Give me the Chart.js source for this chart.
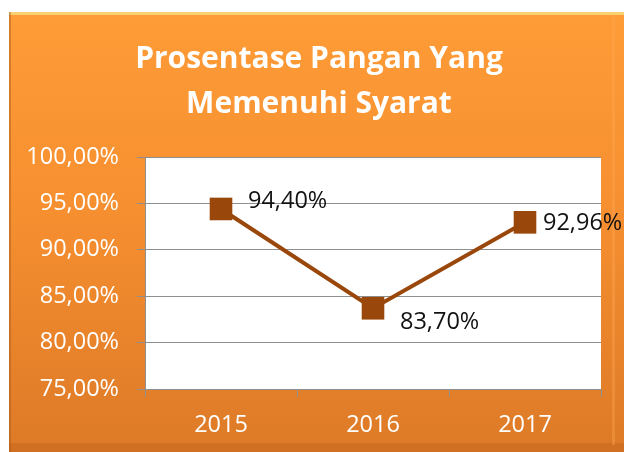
<!DOCTYPE html>
<html>
<head>
<meta charset="utf-8">
<script src="https://cdn.jsdelivr.net/npm/chart.js@4"></script>
<style>
  html, body { margin: 0; padding: 0; background: #fff; }
  #wrap { width: 624px; height: 452px; }
</style>
</head>
<body>
<div id="wrap"><canvas id="chart" width="624" height="452"></canvas></div>
<script>
const years = ['2015', '2016', '2017'];
const persen = [0.944, 0.837, 0.9296];
const titleLines = ['Prosentase Pangan Yang', 'Memenuhi Syarat'];
const yMin = 0.75, yMax = 1.0, yStep = 0.05;

const lineColor = '#9a470b';
const gridColor = '#8f8f8f';

function fmtPct(v) {
  return (v * 100).toFixed(2).replace('.', ',') + '%';
}

// card background, title, white plot area
const cardPlugin = {
  id: 'card',
  beforeDraw(chart) {
    const ctx = chart.ctx;
    const a = chart.chartArea;
    ctx.save();
    ctx.fillStyle = '#fff';
    ctx.fillRect(0, 0, chart.width, chart.height);

    const g = ctx.createLinearGradient(0, 12, 0, 452);
    g.addColorStop(0, '#fe9c37');
    g.addColorStop(0.45, '#f68f30');
    g.addColorStop(1, '#dd7a27');
    ctx.fillStyle = g;
    ctx.fillRect(9, 12, 640, 450);

    // bevel edges
    ctx.fillStyle = 'rgba(250,215,120,0.9)';
    ctx.fillRect(9, 12, 640, 3);
    ctx.fillStyle = 'rgba(160,90,30,0.45)';
    ctx.fillRect(9, 12, 2, 450);
    ctx.fillStyle = 'rgba(170,80,20,0.25)';
    ctx.fillRect(9, 443, 640, 9);
    ctx.fillStyle = 'rgba(255,170,90,0.35)';
    ctx.fillRect(612, 15, 3, 430);

    ctx.fillStyle = '#fff';
    ctx.font = 'bold 30px "Open Sans"';
    ctx.textAlign = 'center';
    ctx.textBaseline = 'alphabetic';
    ctx.fillText(titleLines[0], 319, 68);
    ctx.fillText(titleLines[1], 319, 113);

    ctx.fillStyle = '#fff';
    ctx.fillRect(a.left, a.top, a.right - a.left, a.bottom - a.top);
    ctx.restore();
  }
};

// value labels next to each marker
const labelOffsets = [[27, -8], [27, 14], [18, 1]];
const labelPlugin = {
  id: 'valueLabels',
  afterDatasetsDraw(chart) {
    const ctx = chart.ctx;
    const meta = chart.getDatasetMeta(0);
    ctx.save();
    ctx.fillStyle = '#111';
    ctx.font = '23.5px "Open Sans"';
    ctx.textAlign = 'left';
    ctx.textBaseline = 'middle';
    meta.data.forEach((pt, i) => {
      const off = labelOffsets[i];
      ctx.fillText(fmtPct(persen[i]), pt.x + off[0], pt.y + off[1]);
    });
    ctx.restore();
  }
};

new Chart(document.getElementById('chart'), {
  type: 'line',
  data: {
    labels: years,
    datasets: [{
      data: persen,
      borderColor: lineColor,
      backgroundColor: lineColor,
      borderWidth: 4,
      pointStyle: 'rect',
      pointRadius: 16,
      pointBackgroundColor: lineColor,
      pointBorderWidth: 0,
      tension: 0,
      fill: false
    }]
  },
  options: {
    responsive: false,
    animation: false,
    devicePixelRatio: 1,
    layout: { padding: { top: 157, right: 23, bottom: 0, left: 0 } },
    plugins: {
      legend: { display: false },
      title: { display: false },
      tooltip: { enabled: false }
    },
    scales: {
      x: {
        offset: true,
        afterFit(scale) { scale.height = 63; },
        grid: { offset: true, drawOnChartArea: false, tickLength: 8, color: gridColor },
        border: { color: gridColor },
        ticks: { color: '#fff', padding: 14, font: { family: 'Open Sans', size: 23.5 } }
      },
      y: {
        min: yMin,
        max: yMax,
        afterFit(scale) { scale.width = 145; },
        grid: { color: gridColor, tickLength: 8 },
        border: { color: gridColor },
        ticks: {
          stepSize: yStep,
          color: '#fff',
          padding: 18,
          font: { family: 'Open Sans', size: 23.5 },
          callback: v => fmtPct(v)
        }
      }
    }
  },
  plugins: [cardPlugin, labelPlugin]
});
</script>
</body>
</html>
